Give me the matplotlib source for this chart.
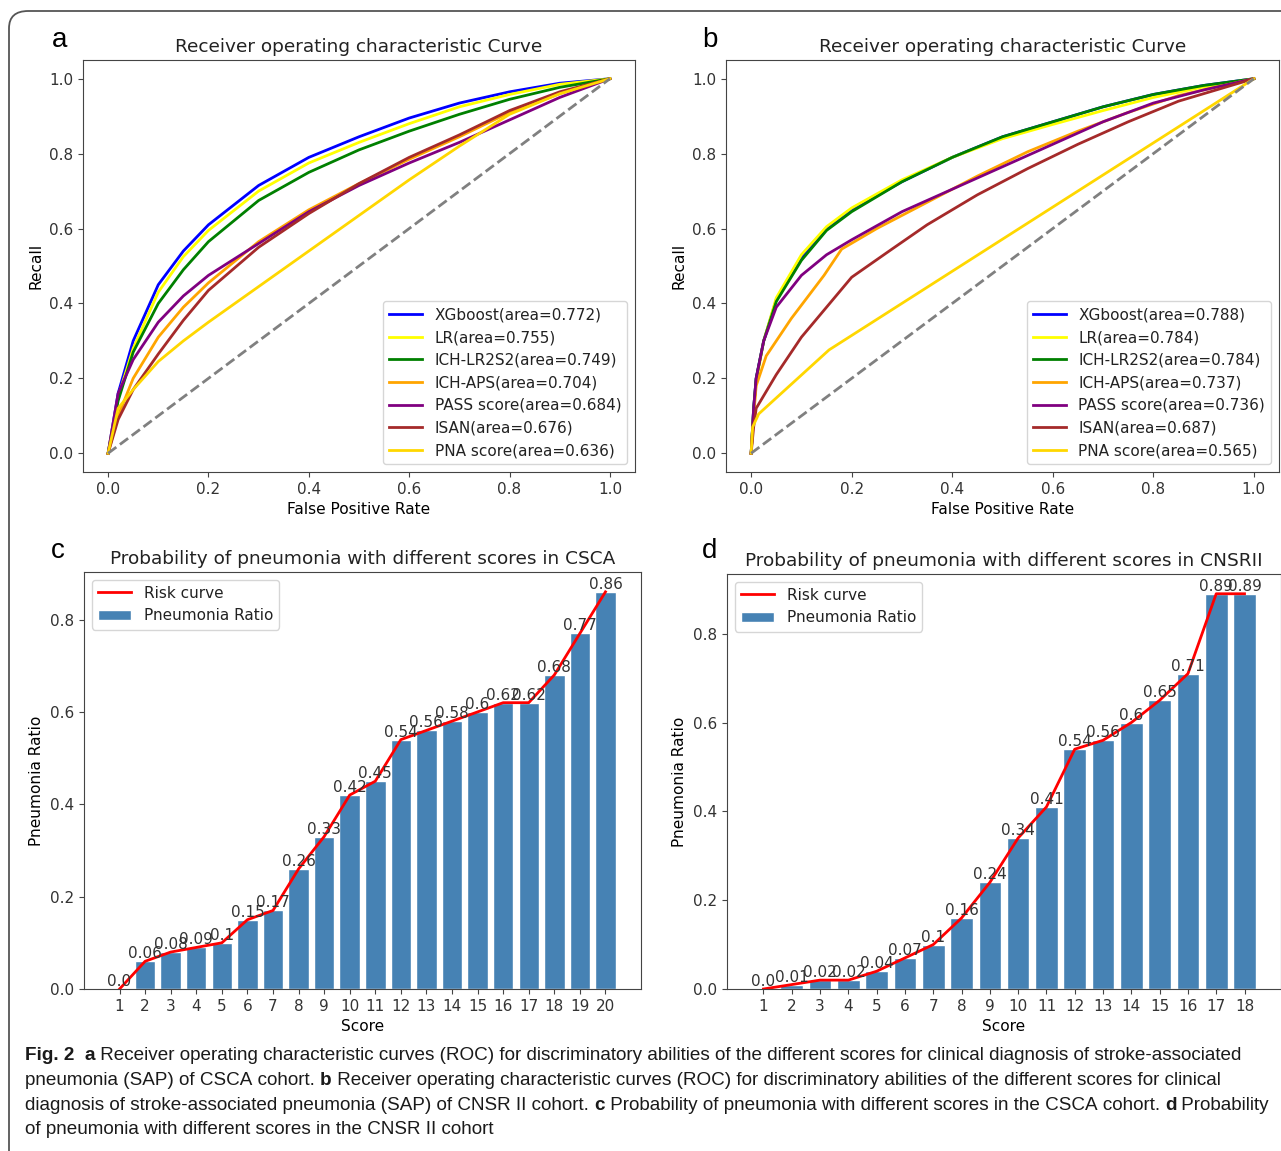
import matplotlib
matplotlib.use("Agg")
import matplotlib.pyplot as plt
from matplotlib.patches import FancyBboxPatch

W, H = 1281, 1151

# ROC data, panel a (CSCA)
roc_labels_a = ['XGboost(area=0.772)', 'LR(area=0.755)', 'ICH-LR2S2(area=0.749)', 'ICH-APS(area=0.704)',
                'PASS score(area=0.684)', 'ISAN(area=0.676)', 'PNA score(area=0.636)']
fpr_grid = [0, 0.02, 0.05, 0.1, 0.15, 0.2, 0.3, 0.4, 0.5, 0.6, 0.7, 0.8, 0.9, 1]
xgb_a = [0, 0.16, 0.30, 0.45, 0.54, 0.61, 0.715, 0.79, 0.845, 0.895, 0.935, 0.965, 0.988, 1]
lr_a = [0, 0.15, 0.28, 0.43, 0.525, 0.595, 0.70, 0.775, 0.83, 0.88, 0.925, 0.958, 0.985, 1]
lr2s2_a = [0, 0.14, 0.27, 0.40, 0.49, 0.565, 0.675, 0.75, 0.81, 0.86, 0.905, 0.945, 0.977, 1]
aps_a = [0, 0.10, 0.20, 0.31, 0.39, 0.455, 0.565, 0.65, 0.72, 0.785, 0.845, 0.91, 0.96, 1]
pass_a = [0, 0.16, 0.25, 0.35, 0.42, 0.475, 0.56, 0.645, 0.715, 0.775, 0.83, 0.89, 0.95, 1]
isan_a = [0, 0.09, 0.17, 0.265, 0.355, 0.435, 0.55, 0.64, 0.72, 0.79, 0.85, 0.915, 0.965, 1]
pna_a = [0, 0.12, 0.17, 0.245, 0.30, 0.35, 0.445, 0.54, 0.635, 0.73, 0.82, 0.905, 0.96, 1]

# ROC data, panel b (CNSR II)
roc_labels_b = ['XGboost(area=0.788)', 'LR(area=0.784)', 'ICH-LR2S2(area=0.784)', 'ICH-APS(area=0.737)',
                'PASS score(area=0.736)', 'ISAN(area=0.687)', 'PNA score(area=0.565)']
fpr_b = [0, 0.005, 0.01, 0.025, 0.05, 0.1, 0.15, 0.2, 0.3, 0.4, 0.5, 0.6, 0.7, 0.8, 0.9, 1]
xgb_b = [0, 0.12, 0.20, 0.30, 0.41, 0.52, 0.60, 0.65, 0.725, 0.79, 0.845, 0.885, 0.925, 0.958, 0.982, 1]
lr_b = [0, 0.11, 0.19, 0.30, 0.415, 0.53, 0.605, 0.655, 0.73, 0.79, 0.84, 0.878, 0.915, 0.95, 0.978, 1]
lr2s2_b = [0, 0.12, 0.20, 0.30, 0.405, 0.515, 0.595, 0.645, 0.725, 0.79, 0.845, 0.885, 0.925, 0.958, 0.982, 1]
pass_b = [0, 0.12, 0.20, 0.30, 0.39, 0.475, 0.53, 0.57, 0.645, 0.705, 0.765, 0.825, 0.885, 0.935, 0.97, 1]
aps_b_x = [0, 0.005, 0.01, 0.03, 0.08, 0.145, 0.18, 0.25, 0.35, 0.45, 0.55, 0.65, 0.75, 0.85, 1]
aps_b = [0, 0.10, 0.18, 0.26, 0.36, 0.475, 0.545, 0.60, 0.67, 0.74, 0.805, 0.86, 0.91, 0.955, 1]
isan_b_x = [0, 0.005, 0.01, 0.05, 0.1, 0.2, 0.28, 0.35, 0.45, 0.55, 0.65, 0.75, 0.85, 0.95, 1]
isan_b = [0, 0.07, 0.12, 0.21, 0.31, 0.47, 0.545, 0.61, 0.69, 0.76, 0.825, 0.885, 0.94, 0.98, 1]
pna_b_x = [0, 0.003, 0.015, 0.155, 1]
pna_b = [0, 0.07, 0.105, 0.276, 1]

roc_colors = ['blue', 'yellow', 'green', 'orange', 'purple', 'brown', 'gold']

# bar data
scores_c = list(range(1, 21))
ratio_c = [0.0, 0.06, 0.08, 0.09, 0.1, 0.15, 0.17, 0.26, 0.33, 0.42, 0.45, 0.54, 0.56, 0.58, 0.6,
           0.62, 0.62, 0.68, 0.77, 0.86]
scores_d = list(range(1, 19))
ratio_d = [0.0, 0.01, 0.02, 0.02, 0.04, 0.07, 0.1, 0.16, 0.24, 0.34, 0.41, 0.54, 0.56, 0.6, 0.65,
           0.71, 0.89, 0.89]

plt.rcParams['font.family'] = ['DejaVu Sans']
plt.rcParams['axes.edgecolor'] = '#444444'
plt.rcParams['xtick.color'] = '#444444'
plt.rcParams['ytick.color'] = '#444444'
plt.rcParams['xtick.labelcolor'] = '#333333'
plt.rcParams['ytick.labelcolor'] = '#333333'
plt.rcParams['text.color'] = '#222222'

fig = plt.figure(figsize=(W / 100, H / 100), dpi=100)


def box(l, t, r, b):
    return [l / W, 1 - b / H, (r - l) / W, (b - t) / H]


tick_fs = 11
lab_fs = 11.1
title_fs = 13.3


def roc_panel(ax, curves, labels, title):
    for (x, y), lab, c in zip(curves, labels, roc_colors):
        ax.plot(x, y, color=c, lw=2, label=lab)
    ax.plot([0, 1], [0, 1], color='gray', ls='--', lw=2)
    ax.set_xlim(-0.05, 1.05)
    ax.set_ylim(-0.05, 1.05)
    ax.set_xticks([0, 0.2, 0.4, 0.6, 0.8, 1.0])
    ax.set_yticks([0, 0.2, 0.4, 0.6, 0.8, 1.0])
    ax.tick_params(labelsize=tick_fs)
    ax.set_xlabel('False Positive Rate', fontsize=lab_fs)
    ax.set_ylabel('Recall', fontsize=lab_fs)
    ax.set_title(title, fontsize=title_fs)
    ax.legend(loc='lower right', fontsize=tick_fs, handlelength=2.2, labelspacing=0.5)


ax_a = fig.add_axes(box(83, 60, 635, 472))
roc_panel(ax_a, [(fpr_grid, xgb_a), (fpr_grid, lr_a), (fpr_grid, lr2s2_a), (fpr_grid, aps_a),
                 (fpr_grid, pass_a), (fpr_grid, isan_a), (fpr_grid, pna_a)],
          roc_labels_a, 'Receiver operating characteristic Curve')

ax_b = fig.add_axes(box(726, 60, 1279, 472))
roc_panel(ax_b, [(fpr_b, xgb_b), (fpr_b, lr_b), (fpr_b, lr2s2_b), (aps_b_x, aps_b),
                 (fpr_b, pass_b), (isan_b_x, isan_b), (pna_b_x, pna_b)],
          roc_labels_b, 'Receiver operating characteristic Curve')


def bar_panel(ax, scores, ratios, title):
    ax.bar(scores, ratios, width=0.8, color='steelblue', edgecolor='white', lw=1, label='Pneumonia Ratio')
    ax.plot(scores, ratios, color='red', lw=2, label='Risk curve')
    for s, r in zip(scores, ratios):
        ax.text(s, r, str(r), ha='center', va='bottom', fontsize=tick_fs, color='#333333')
    ax.set_xticks(scores)
    ax.set_yticks([0, 0.2, 0.4, 0.6, 0.8])
    ax.tick_params(labelsize=tick_fs)
    ax.set_xlabel('Score', fontsize=lab_fs)
    ax.set_ylabel('Pneumonia Ratio', fontsize=lab_fs)
    ax.set_title(title, fontsize=title_fs)
    ax.legend(loc='upper left', fontsize=tick_fs, handlelength=2.2, labelspacing=0.5)


ax_c = fig.add_axes(box(84, 572, 641, 989))
bar_panel(ax_c, scores_c, ratio_c, 'Probability of pneumonia with different scores in CSCA')

ax_d = fig.add_axes(box(727, 574, 1281, 989))
bar_panel(ax_d, scores_d, ratio_d, 'Probability of pneumonia with different scores in CNSRII')

# panel letters
for s, x, y in [('a', 60, 40), ('b', 710, 40), ('c', 58, 551), ('d', 710, 551)]:
    fig.text(x / W, 1 - y / H, s, fontsize=20, ha='center', va='center',
             family=['Liberation Sans', 'DejaVu Sans'], color='black')

# outer frame
frame = FancyBboxPatch((9 / W, -0.05), 1.2, 1 - 11 / H + 0.05, boxstyle='round,pad=0,rounding_size=0.015',
                       transform=fig.transFigure, fill=False, ec='#555555', lw=1.3)
fig.add_artist(frame)

# caption with bold parts
cap_font = ['Liberation Sans Narrow', 'Liberation Sans', 'DejaVu Sans']
cap_fs = 13.6
caption = [
    [('Fig. 2', True), ('  ', False), ('a', True),
     (' Receiver operating characteristic curves (ROC) for discriminatory abilities of the different scores for clinical diagnosis of stroke-associated', False)],
    [('pneumonia (SAP) of CSCA cohort. ', False), ('b', True),
     (' Receiver operating characteristic curves (ROC) for discriminatory abilities of the different scores for clinical', False)],
    [('diagnosis of stroke-associated pneumonia (SAP) of CNSR II cohort. ', False), ('c', True),
     (' Probability of pneumonia with different scores in the CSCA cohort. ', False), ('d', True), (' Probability', False)],
    [('of pneumonia with different scores in the CNSR II cohort', False)],
]
renderer = fig.canvas.get_renderer()
for i, parts in enumerate(caption):
    x = 25
    y = 1060 + i * 24.8
    for txt, bold in parts:
        t = fig.text(x / W, 1 - y / H, txt.replace(' ', '\u00a0'), fontsize=cap_fs,
                     fontweight='bold' if bold else 'normal', family=cap_font, color='#1a1a1a',
                     va='baseline', ha='left')
        x += t.get_window_extent(renderer).width

fig.savefig('out.png', dpi=100)
